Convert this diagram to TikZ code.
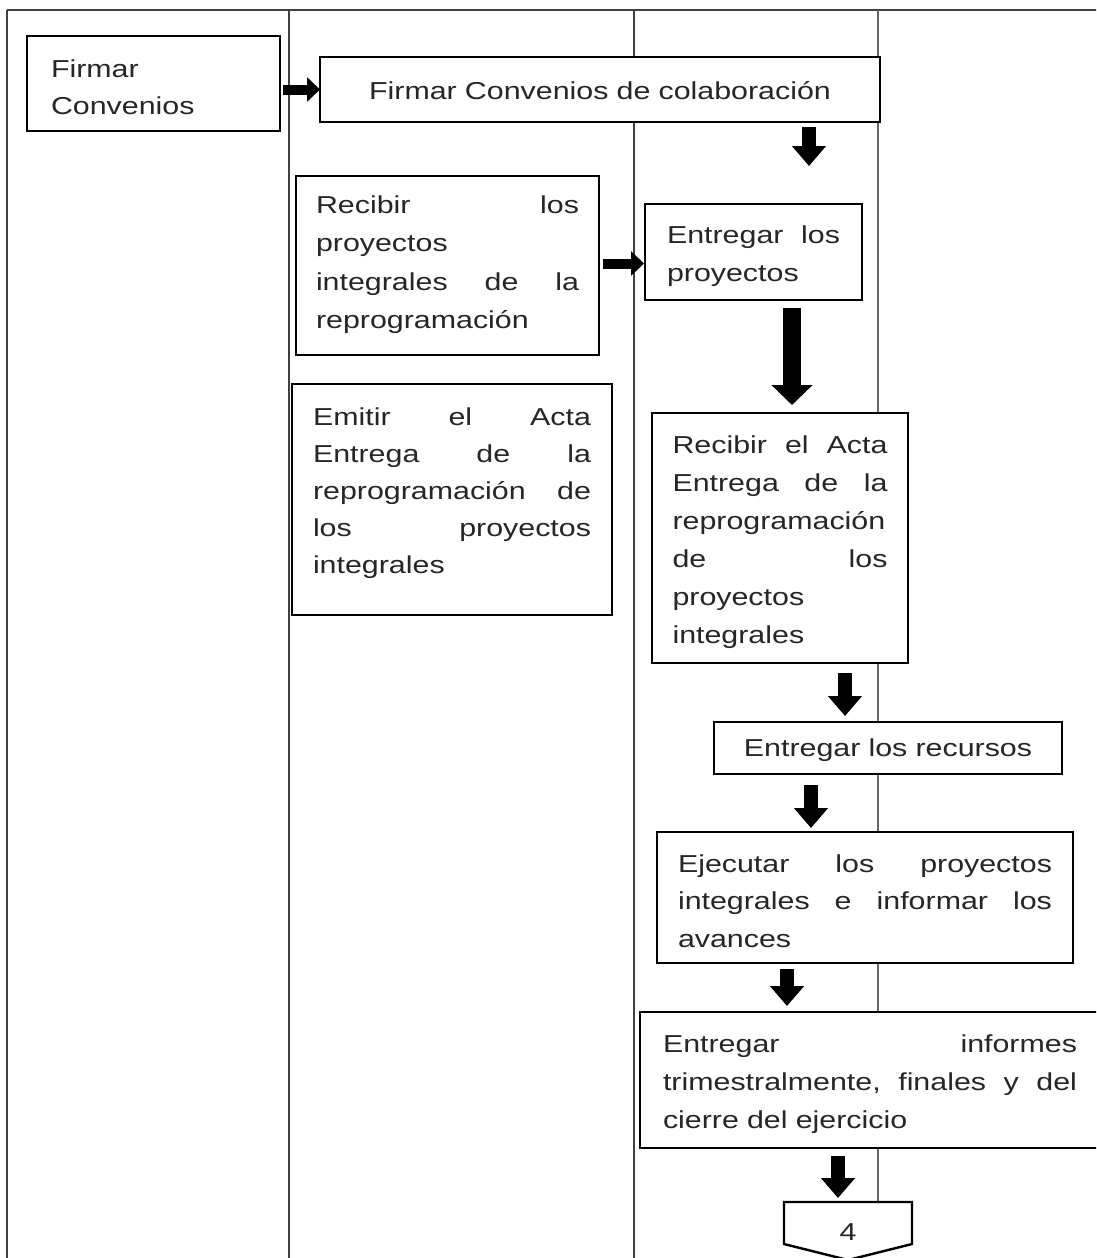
\documentclass[tikz,border=0pt]{standalone}
\usepackage{fontspec}
\setmainfont{Liberation Sans}[FakeStretch=1.24]
\usetikzlibrary{arrows.meta,calc}
\newcommand\J[1]{\leavevmode\hbox to \hsize{#1}}
\newcommand\fs[1]{\fontsize{24.5}{#1}\selectfont}
\begin{document}
\begin{tikzpicture}[x=1pt,y=-1pt,
  frameline/.style={draw=black!75, line width=1.6pt},
  box/.style={draw=black, line width=2.4pt, fill=white, inner ysep=0pt, outer sep=0pt,
              anchor=north west, text=black!85},
  varrow/.style={draw=black, line width=14pt, -{Triangle[width=33pt,length=20pt]}},
  harrow/.style={draw=black, line width=10pt, -{Triangle[width=24pt,length=13pt]}},
  bigarrow/.style={draw=black, line width=18pt, -{Triangle[width=40pt,length=20pt]}},
]
\clip (0,0) rectangle (1096,1258);
% frame
\draw[frameline, line width=2pt] (7,10) -- (1100,10);
\draw[frameline, line width=2pt] (7,10) -- (7,1260);
\draw[frameline] (289,10) -- (289,1260);
\draw[frameline] (634,10) -- (634,1260);
\draw[frameline, draw=black!60] (878,10) -- (878,1202);
% boxes
\node[box, inner xsep=24pt, text width=205pt, text height=41pt, text depth=54pt, font=\fs{37}]
  (fc) at (27,36) {Firmar\\Convenios};
\node[box, inner xsep=10pt, text width=540pt, align=center, text height=42pt, text depth=23pt, font=\fs{38}]
  (fcc) at (320,57) {Firmar Convenios de colaboración};
\node[box, inner xsep=20pt, text width=263pt, text height=37pt, text depth=142pt, font=\fs{38.5}]
  (rp) at (296,176) {\J{Recibir\hfill los}\\proyectos\\\J{integrales\hfill de\hfill la}\\reprogramación};
\node[box, inner xsep=22pt, text width=173pt, text height=39pt, text depth=57pt, font=\fs{38.5}]
  (ep) at (645,204) {\J{Entregar\hfill los}\\proyectos};
\node[box, inner xsep=21pt, text width=278pt, text height=41pt, text depth=190pt, font=\fs{37}]
  (ea) at (292,384) {\J{Emitir\hfill el\hfill Acta}\\\J{Entrega\hfill de\hfill la}\\\J{reprogramación\hfill de}\\\J{los\hfill proyectos}\\integrales};
\node[box, inner xsep=20.5pt, text width=215pt, text height=40pt, text depth=210pt, font=\fs{38}]
  (ra) at (652,413) {\J{Recibir\hfill el\hfill Acta}\\\J{Entrega\hfill de\hfill la}\\reprogramación\\\J{de\hfill los}\\proyectos\\integrales};
\node[box, inner xsep=10pt, text width=328pt, align=center, text height=34pt, text depth=18pt, font=\fs{38}]
  (er) at (714,722) {Entregar los recursos};
\node[box, inner xsep=21pt, text width=374pt, text height=40pt, text depth=91pt, font=\fs{37.5}]
  (ej) at (657,832) {\J{Ejecutar\hfill los\hfill proyectos}\\\J{integrales\hfill e\hfill informar\hfill los}\\avances};
\node[box, inner xsep=23pt, text width=414pt, text height=40pt, text depth=96pt, font=\fs{38}]
  (ei) at (640,1012) {\J{Entregar\hfill informes}\\\J{trimestralmente,\hfill finales\hfill y\hfill del}\\cierre del ejercicio};
\node[inner sep=0pt, outer sep=0pt, anchor=north, minimum width=128pt, text height=38pt, text depth=4pt,
      font=\fs{38}, text=black!85] (p4) at (848,1202) {4};
\draw[line width=2.4pt, line join=miter] (p4.north west) -- (p4.north east) -- (p4.south east)
  -- ($(p4.south)+(0,16)$) -- (p4.south west) -- cycle;
% arrows
\draw[harrow] ($(fc.east |- fcc.west)+(3,0)$) -- (fcc.west);
\draw[varrow] ($(fcc.south west)+(489,5)$) -- ($(ep.north)+(55.5,-38)$);
\draw[harrow] ($(rp.east)+(4,-2)$) -- ($(ep.west |- rp.east)+(-1,-2)$);
\draw[bigarrow] ($(ep.south)+(38.5,8)$) -- ($(ra.north)+(12,-8)$);
\draw[varrow] ($(ra.south)+(65,10)$) -- ($(er.north)+(-43,-6)$);
\draw[varrow] ($(er.south)+(-77,11)$) -- ($(ej.north)+(-54,-4)$);
\draw[varrow] ($(ej.south)+(-78,6)$) -- ($(ei.north)+(-83,-6)$);
\draw[varrow] ($(ei.south)+(-32,8)$) -- ($(p4.north)+(-10,-4)$);
\end{tikzpicture}
\end{document}
